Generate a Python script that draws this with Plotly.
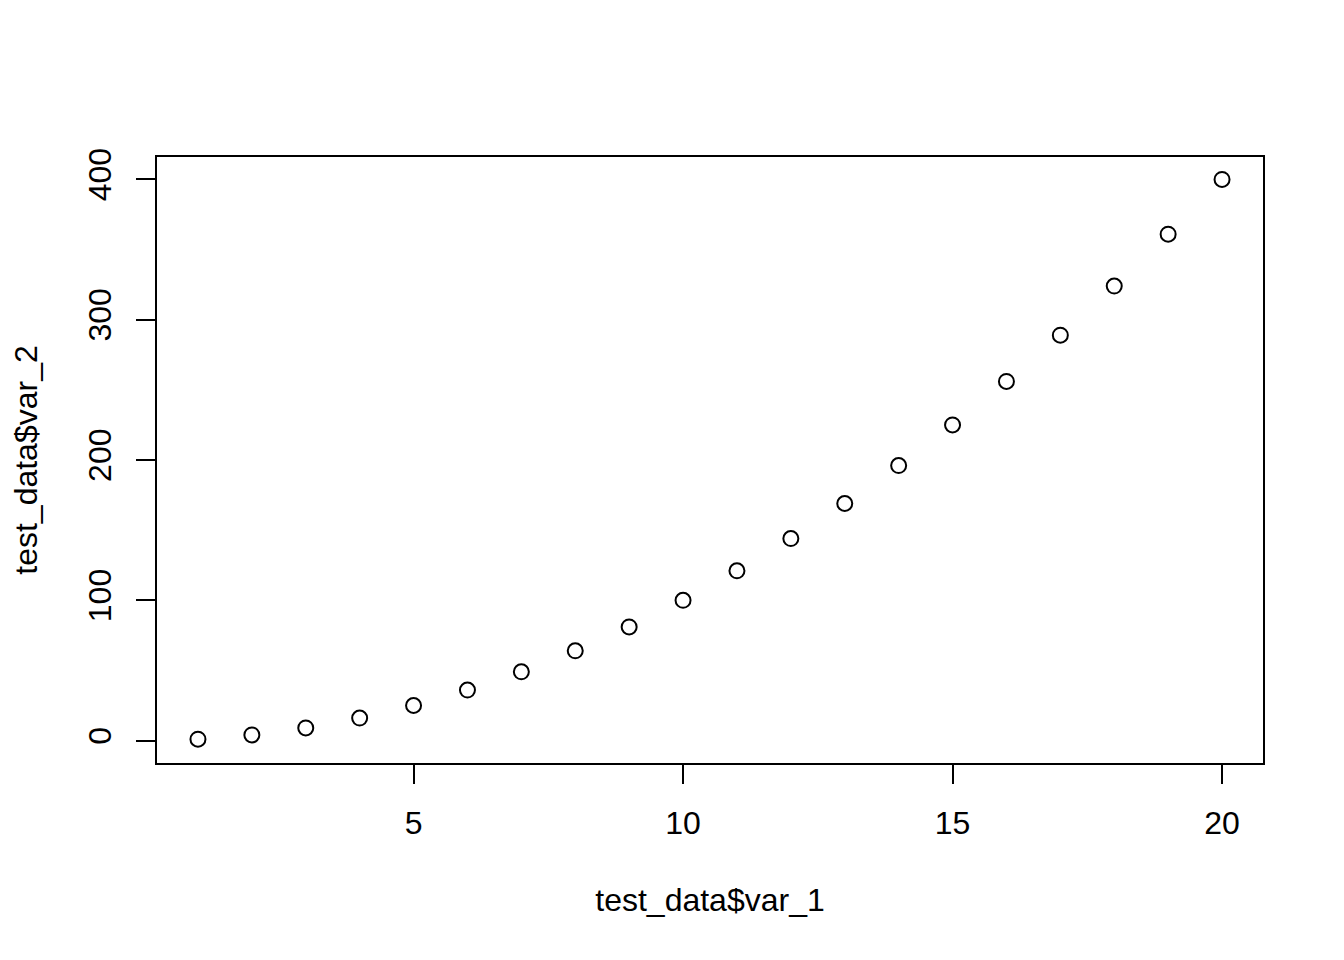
import plotly.graph_objects as go

var_1 = [1, 2, 3, 4, 5, 6, 7, 8, 9, 10, 11, 12, 13, 14, 15, 16, 17, 18, 19, 20]
var_2 = [1, 4, 9, 16, 25, 36, 49, 64, 81, 100, 121, 144, 169, 196, 225, 256, 289, 324, 361, 400]
x_ticks = [5, 10, 15, 20]
y_ticks = [0, 100, 200, 300, 400]

FONT = "Liberation Sans, Arial, Helvetica, sans-serif"
FS = 32

fig = go.Figure(go.Scatter(
    x=var_1, y=var_2, mode="markers",
    marker=dict(symbol="circle-open", size=15, color="black", line=dict(width=2, color="black")),
    hoverinfo="x+y", showlegend=False,
))

fig.update_layout(
    width=1344, height=960,
    margin=dict(l=149, r=89, t=149, b=205, autoexpand=False),
    paper_bgcolor="white", plot_bgcolor="white",
    font=dict(family=FONT, size=FS, color="black"),
)
fig.update_xaxes(
    range=[0.24, 20.76], tickvals=x_ticks, ticktext=[str(v) for v in x_ticks],
    showgrid=False, zeroline=False, showline=True, linecolor="black", linewidth=2, mirror=True,
    ticks="outside", ticklen=19, tickwidth=2, tickcolor="black",
    tickfont=dict(family=FONT, size=FS), ticklabelstandoff=12,
    title=dict(text="test_data$var_1", font=dict(family=FONT, size=FS), standoff=48),
)
fig.update_yaxes(
    range=[-16, 416], tickvals=y_ticks, ticktext=[str(v) for v in y_ticks],
    showgrid=False, zeroline=False, showline=True, linecolor="black", linewidth=2, mirror=True,
    ticks="outside", ticklen=19, tickwidth=2, tickcolor="black", tickangle=-90,
    tickfont=dict(family=FONT, size=FS), ticklabelstandoff=12,
    title=dict(text="test_data$var_2", font=dict(family=FONT, size=FS), standoff=40),
)

fig.write_html("out.html")
